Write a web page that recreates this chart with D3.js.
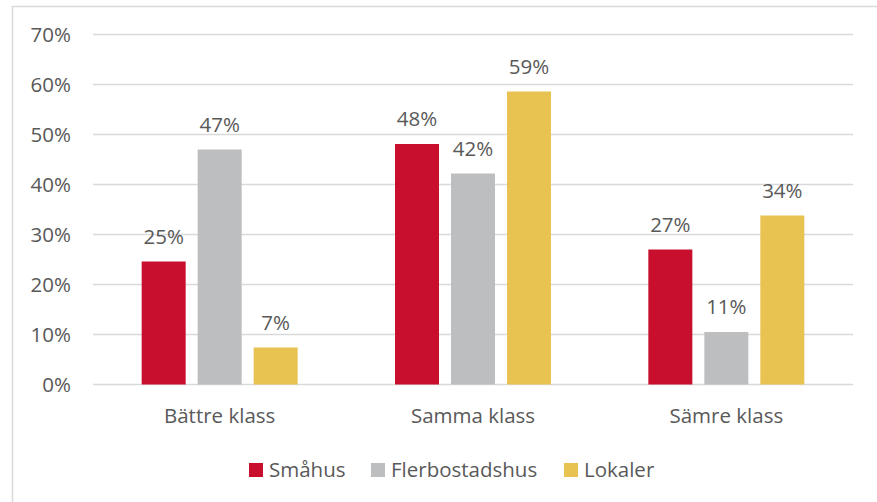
<!DOCTYPE html>
<html>
<head>
<meta charset="utf-8">
<script src="https://cdn.jsdelivr.net/npm/d3@7"></script>
<style>
body { margin:0; background:#fff; }
text { font-family:"Open Sans", sans-serif; fill:#595959; }
</style>
</head>
<body>
<div id="chart"></div>
<script>
var categories = ["Bättre klass", "Samma klass", "Sämre klass"];
var seriesNames = ["Småhus", "Flerbostadshus", "Lokaler"];
var smahus = [24.6, 48.1, 27.0];
var flerbostadshus = [47.0, 42.2, 10.5];
var lokaler = [7.4, 58.6, 33.8];
var labels = [["25%", "48%", "27%"], ["47%", "42%", "11%"], ["7%", "59%", "34%"]];
var yTicks = [0, 10, 20, 30, 40, 50, 60, 70];
var colors = ["#c8102e", "#bdbec0", "#e8c352"];

var values = [smahus, flerbostadshus, lokaler];
var fontSize = "20.5px";

var width = 877, height = 502;
var svg = d3.select("#chart").append("svg")
    .attr("width", width)
    .attr("height", height);

// chart border
svg.append("rect")
    .attr("x", 12.5).attr("y", 6.5)
    .attr("width", 880).attr("height", 520)
    .attr("fill", "none")
    .attr("stroke", "#d9d9d9")
    .attr("stroke-width", 1.5);

var plot = {left:93, right:853, top:34.5, bottom:384.5};

var x = d3.scaleBand()
    .domain(categories)
    .range([plot.left, plot.right]);

var xInner = d3.scaleBand()
    .domain(seriesNames)
    .range([x.bandwidth()/2 - 78, x.bandwidth()/2 + 78])
    .paddingInner(0.214);

var y = d3.scaleLinear()
    .domain([0, 70])
    .range([plot.bottom, plot.top]);

// gridlines
svg.append("g").selectAll("line")
    .data(yTicks)
    .enter().append("line")
    .attr("x1", plot.left).attr("x2", plot.right)
    .attr("y1", function(d){ return y(d); })
    .attr("y2", function(d){ return y(d); })
    .attr("stroke", "#d9d9d9")
    .attr("stroke-width", 1.5);

// y tick labels
svg.append("g").selectAll("text")
    .data(yTicks)
    .enter().append("text")
    .attr("x", 71)
    .attr("y", function(d){ return y(d) + 7.5; })
    .attr("text-anchor", "end")
    .style("font-size", fontSize)
    .text(function(d){ return d + "%"; });

// bars
seriesNames.forEach(function(s, i){
    var g = svg.append("g");
    g.selectAll("rect")
        .data(values[i])
        .enter().append("rect")
        .attr("x", function(d, j){ return x(categories[j]) + xInner(s); })
        .attr("width", xInner.bandwidth())
        .attr("y", function(d){ return y(d); })
        .attr("height", function(d){ return y(0) - y(d); })
        .attr("fill", colors[i]);
    g.selectAll("text")
        .data(values[i])
        .enter().append("text")
        .attr("x", function(d, j){ return x(categories[j]) + xInner(s) + xInner.bandwidth()/2; })
        .attr("y", function(d){ return y(d) - 18; })
        .attr("text-anchor", "middle")
        .style("font-size", fontSize)
        .text(function(d, j){ return labels[i][j]; });
});

// category labels
svg.append("g").selectAll("text")
    .data(categories)
    .enter().append("text")
    .attr("x", function(d){ return x(d) + x.bandwidth()/2; })
    .attr("y", 423)
    .attr("text-anchor", "middle")
    .style("font-size", fontSize)
    .text(function(d){ return d; });

// legend
var legendX = [249, 371, 564];
var legend = svg.append("g").selectAll("g")
    .data(seriesNames)
    .enter().append("g")
    .attr("transform", function(d, i){ return "translate(" + legendX[i] + ",463)"; });
legend.append("rect")
    .attr("width", 14).attr("height", 14)
    .attr("fill", function(d, i){ return colors[i]; });
legend.append("text")
    .attr("x", 20).attr("y", 13.5)
    .style("font-size", fontSize)
    .text(function(d){ return d; });
</script>
</body>
</html>
